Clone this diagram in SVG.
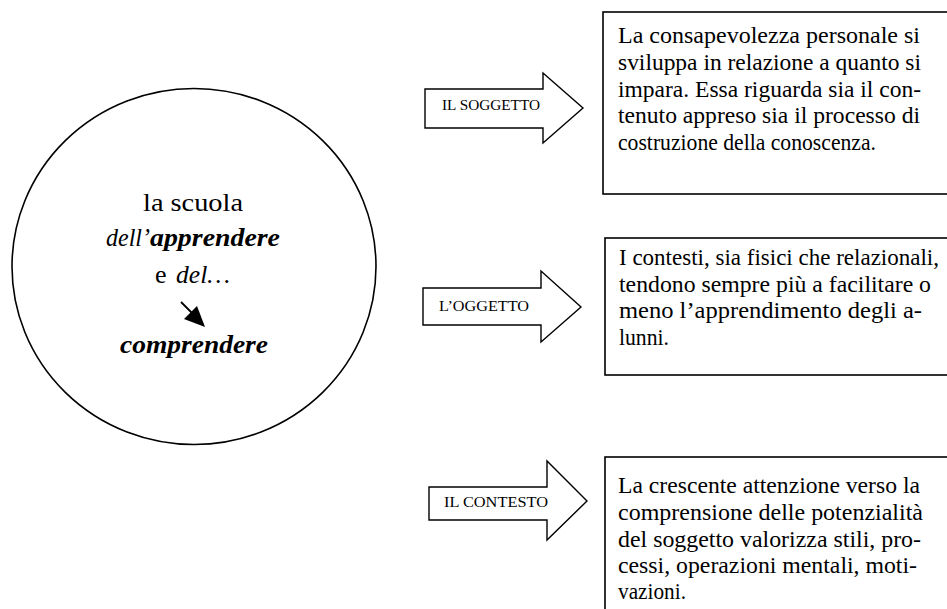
<svg xmlns="http://www.w3.org/2000/svg" width="947" height="609" viewBox="0 0 947 609">
<style>
  .shape { fill: #ffffff; stroke: #000000; stroke-width: 1.6; }
  .arrow { fill: #ffffff; stroke: #000000; stroke-width: 1.4; stroke-linejoin: miter; }
  .t { font-family: "Liberation Serif", "Times New Roman", serif; fill: #000000; }
  .body { font-size: 22.5px; }
  .lbl { font-size: 15px; }
  .big { font-size: 26px; }
  .it { font-style: italic; }
  .bi { font-style: italic; font-weight: bold; }
</style>
<rect width="947" height="609" fill="#ffffff"/>

<g id="circle-node">
  <ellipse class="shape" cx="194" cy="266.5" rx="182" ry="178"/>
  <text class="t big" x="143" y="211" textLength="100" lengthAdjust="spacingAndGlyphs">la scuola</text>
  <text class="t big it" x="106" y="246" textLength="44" lengthAdjust="spacingAndGlyphs">dell’</text>
  <text class="t big bi" x="150" y="246" textLength="130" lengthAdjust="spacingAndGlyphs">apprendere</text>
  <text class="t big" x="155" y="283">e</text>
  <text class="t big it" x="176" y="283" textLength="54" lengthAdjust="spacingAndGlyphs">del…</text>
  <line x1="181" y1="302" x2="192" y2="313" stroke="#000000" stroke-width="1.8"/>
  <polygon points="205,327 184,319 197,306" fill="#000000"/>
  <text class="t big bi" x="120" y="353" textLength="148" lengthAdjust="spacingAndGlyphs">comprendere</text>
</g>

<g id="connectors">
  <g id="arrow-soggetto">
    <polygon class="arrow" points="425,89 543,89 543,73 583,108 543,143 543,128 425,128"/>
    <text class="t lbl" x="442" y="110" textLength="98" lengthAdjust="spacingAndGlyphs">IL SOGGETTO</text>
  </g>
  <g id="arrow-oggetto">
    <polygon class="arrow" points="423,288 541,288 541,271 581,307 541,342 541,325 423,325"/>
    <text class="t lbl" x="439" y="311" textLength="90" lengthAdjust="spacingAndGlyphs">L’OGGETTO</text>
  </g>
  <g id="arrow-contesto">
    <polygon class="arrow" points="429,487 547,487 547,461 587,501 547,540 547,520 429,520"/>
    <text class="t lbl" x="444" y="507" textLength="104" lengthAdjust="spacingAndGlyphs">IL CONTESTO</text>
  </g>
</g>

<g id="box-soggetto">
  <rect class="shape" x="603" y="12" width="350" height="182"/>
  <text class="t body" x="618" y="43" textLength="302" lengthAdjust="spacingAndGlyphs">La consapevolezza personale si</text>
  <text class="t body" x="618" y="70" textLength="303" lengthAdjust="spacingAndGlyphs">sviluppa in relazione a quanto si</text>
  <text class="t body" x="618" y="97" textLength="303" lengthAdjust="spacingAndGlyphs">impara. Essa riguarda sia il con-</text>
  <text class="t body" x="618" y="123" textLength="302" lengthAdjust="spacingAndGlyphs">tenuto appreso sia il processo di</text>
  <text class="t body" x="618" y="150" textLength="258" lengthAdjust="spacingAndGlyphs">costruzione della conoscenza.</text>
</g>

<g id="box-oggetto">
  <rect class="shape" x="605" y="238" width="350" height="137"/>
  <text class="t body" x="619" y="265" textLength="320" lengthAdjust="spacingAndGlyphs">I contesti, sia fisici che relazionali,</text>
  <text class="t body" x="619" y="292" textLength="312" lengthAdjust="spacingAndGlyphs">tendono sempre più a facilitare o</text>
  <text class="t body" x="619" y="318" textLength="303" lengthAdjust="spacingAndGlyphs">meno l’apprendimento degli a-</text>
  <text class="t body" x="619" y="345" textLength="50" lengthAdjust="spacingAndGlyphs">lunni.</text>
</g>

<g id="box-contesto">
  <rect class="shape" x="605" y="457" width="350" height="170"/>
  <text class="t body" x="618" y="493" textLength="302" lengthAdjust="spacingAndGlyphs">La crescente attenzione verso la</text>
  <text class="t body" x="618" y="520" textLength="305" lengthAdjust="spacingAndGlyphs">comprensione delle potenzialità</text>
  <text class="t body" x="618" y="547" textLength="303" lengthAdjust="spacingAndGlyphs">del soggetto valorizza stili, pro-</text>
  <text class="t body" x="618" y="573" textLength="299" lengthAdjust="spacingAndGlyphs">cessi, operazioni mentali, moti-</text>
  <text class="t body" x="618" y="599" textLength="68" lengthAdjust="spacingAndGlyphs">vazioni.</text>
</g>
</svg>
